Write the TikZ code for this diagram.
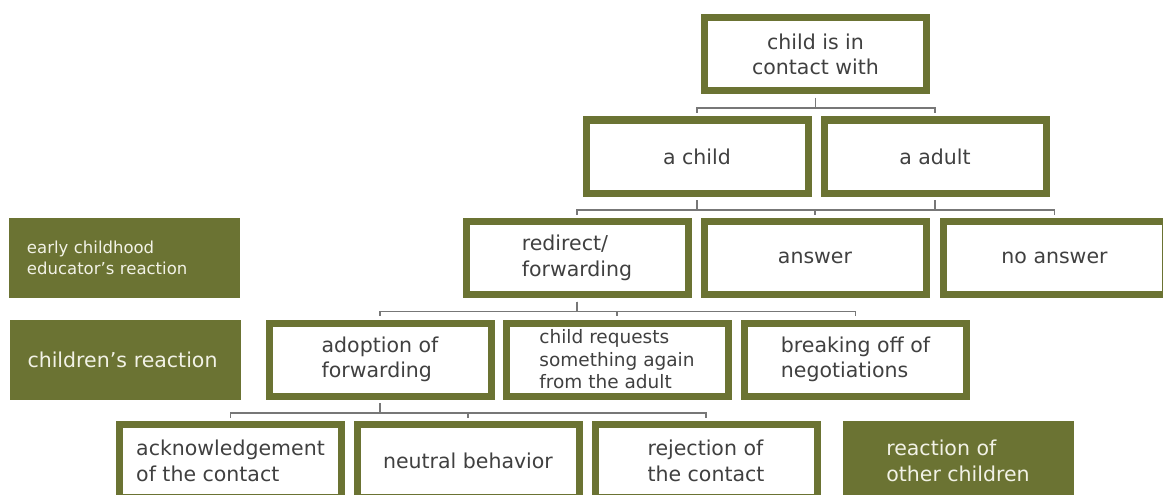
\documentclass[tikz,border=0pt]{standalone}
\usepackage{fontspec}
\setmainfont{DejaVu Sans}
\definecolor{moss}{HTML}{6B7333}
\definecolor{ink}{HTML}{404040}
\definecolor{cream}{HTML}{F2F2E6}
\definecolor{wire}{HTML}{777777}
\tikzset{
  box/.style={draw=moss, line width=7pt, fill=white, text=ink, minimum width=222pt,
    minimum height=73pt, inner sep=2pt, align=left, font=\fontsize{20.5}{25.5}\selectfont},
  tag/.style={fill=moss, text=cream, minimum width=231pt, minimum height=80pt,
    inner xsep=18pt, align=left, font=\fontsize{20.5}{25.5}\selectfont},
  link/.style={draw=wire, line width=1.2pt, shorten <=3.5pt, shorten >=3.5pt}
}

\begin{document}
\begin{tikzpicture}[x=1pt,y=-1pt]
    \useasboundingbox (0,0) rectangle (1163,495);
    \clip (0,0) rectangle (1163,495);
    % 左侧标签
    \node[tag, text width=195pt, font=\fontsize{16.5}{21.5}\selectfont] (educator) at (124.5,258) {early childhood\\educator’s reaction};
    \node[tag, text width=195pt] (children) at (125,359.5) {children’s reaction};
    \node[tag] (others) at (958,461) {reaction of\\other children};
    % 第一、二层
    \node[box, align=center] (contact) at (815.5,54.5) {child is in\\contact with};
    \node[box] (child) at (697,156.5) {a child};
    \node[box] (adult) at (935,156.5) {a adult};
    % 教师的反应
    \node[box] (redirect) at (577,258) {redirect/\\forwarding};
    \node[box] (answer) at (815,258) {answer};
    \node[box] (noanswer) at (1054.5,258) {no answer};
    % 儿童的反应
    \node[box] (adoption) at (380,359.5) {adoption of\\forwarding};
    \node[box, font=\fontsize{18.5}{22.5}\selectfont] (request) at (617,359.5) {child requests\\something again\\from the adult};
    \node[box] (breaking) at (855.5,359.5) {breaking off of\\negotiations};
    % 最下层
    \node[box] (ack) at (230.5,461) {acknowledgement\\of the contact};
    \node[box] (neutral) at (468,461) {neutral behavior};
    \node[box] (rejection) at (706,461) {rejection of\\the contact};
    % 连线
    \foreach \c in {child,adult}
      \draw[link] (contact.south) -- ++(0,13.5) -| (\c.north);
    \foreach \c in {redirect,answer,noanswer}
      \draw[link] (child.south) -- ++(0,13.5) -| (\c.north);
    \draw[link] (adult.south) -- ++(0,13.5) -| (answer.north);
    \foreach \c in {adoption,request,breaking}
      \draw[link] (redirect.south) -- ++(0,13.5) -| (\c.north);
    \foreach \c in {ack,neutral,rejection}
      \draw[link] (adoption.south) -- ++(0,13.5) -| (\c.north);
\end{tikzpicture}
\end{document}
